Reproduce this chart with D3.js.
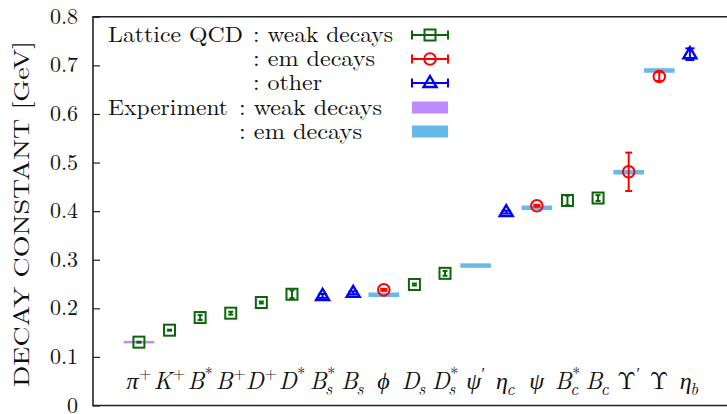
<!DOCTYPE html>
<html><head><meta charset="utf-8">
<script src="https://cdn.jsdelivr.net/npm/d3@7/dist/d3.min.js"></script>
<style>
html,body{margin:0;padding:0;background:#fff;}
svg{display:block;}
</style></head>
<body>
<script>
// ---------- data ----------
const categories = ["pi+","K+","B*","B+","D+","D*","Bs*","Bs","phi","Ds","Ds*","psi'","eta_c","psi","Bc*","Bc","Upsilon'","Upsilon","eta_b"];
const labelBase = ["π","K","B","B","D","D","B","B","ϕ","D","D","ψ","η","ψ","B","B","Υ","Υ","η"];
const labelSup  = ["+","+","*","+","+","*","*","","","","*","′","","","*","","′","",""];
const labelSub  = ["","","","","","","s","s","","s","s","","c","","c","c","","","b"];

const weakCats = ["pi+","K+","B*","B+","D+","D*","Ds","Ds*","Bc*","Bc"];
const weakVals = [0.1304,0.155,0.181,0.190,0.212,0.229,0.249,0.272,0.422,0.427];
const weakErrs = [0.001,0.001,0.005,0.003,0.002,0.008,0.002,0.005,0.010,0.006];

const emCats = ["phi","psi","Upsilon'","Upsilon"];
const emVals = [0.238,0.411,0.481,0.677];
const emErrs = [0.002,0.002,0.0395,0.009];

const otherCats = ["Bs*","Bs","eta_c","eta_b"];
const otherVals = [0.2255,0.232,0.398,0.723];
const otherErrs = [0.004,0.003,0.003,0.012];

const expWeakCats = ["pi+"];
const expWeakVals = [0.1304];
const expEmCats = ["phi","psi'","psi","Upsilon'","Upsilon"];
const expEmVals = [0.228,0.288,0.407,0.480,0.6895];

const yTicks = [0,0.1,0.2,0.3,0.4,0.5,0.6,0.7,0.8];
const yLabel = "DECAY CONSTANT [GeV]";
const legendRows = [
  {left:"Lattice QCD", right:": weak decays"},
  {left:"", right:": em decays"},
  {left:"", right:": other"},
  {left:"Experiment", right:": weak decays"},
  {left:"", right:": em decays"}
];

// ---------- layout ----------
const W=727,H=414;
const pLeft=93, pTop=16.8, pBottom=405.5;
const green="#0b660b", red="#ff0000", blue="#0000ff", purple="#c08aff", sky="#66b9e9";
const FONT='"Latin Modern Roman", "Liberation Serif", serif';
const T=sel=>sel.style("font-family",FONT).attr("fill","#111");

const svg=d3.select("body").append("svg").attr("width",W).attr("height",H);

const x=d3.scaleLinear().domain([-1.5,19.5]).range([pLeft,pLeft+21*30.61]);
const y=d3.scaleLinear().domain([0,0.8]).range([pBottom,pTop]);
const xi=c=>x(categories.indexOf(c));

// frame
const fr=svg.append("g").attr("stroke","#222").attr("stroke-width",1.6).attr("fill","none");
fr.append("path").attr("d",`M${W+5},${pTop}H${pLeft}V${pBottom}H${W+5}`);

// y axis ticks (inward)
const yAxis=d3.axisRight(y).tickValues(yTicks).tickSize(7).tickFormat("");
const ga=svg.append("g").attr("transform",`translate(${pLeft},0)`).call(yAxis);
ga.select(".domain").remove();
ga.selectAll("line").attr("stroke","#222").attr("stroke-width",1.2);

// y tick labels
svg.append("g").selectAll("text").data(yTicks).join("text")
  .attr("x",78).attr("y",d=>y(d)+7).attr("text-anchor","end")
  .attr("font-size",22).text(d=>d===0?"0":d3.format(".1f")(d)).call(T);

// y label
svg.append("text").attr("transform",`translate(29,214) rotate(-90)`)
  .attr("text-anchor","middle").attr("font-size",22)
  .attr("textLength",346).attr("lengthAdjust","spacingAndGlyphs").text(yLabel).call(T);

// x category labels
const xl=svg.append("g");
categories.forEach((c,i)=>{
  const upright = labelBase[i]==="Υ";
  const g=xl.append("g");
  const b=g.append("text").attr("y",389).attr("font-size",24)
    .attr("font-style",upright?"normal":"italic").text(labelBase[i]).call(T);
  const bw=b.node().getComputedTextLength();
  let sw=0, subw=0, sup=null, sub=null;
  if(labelSup[i]){ sup=g.append("text").attr("y",379).attr("font-size",16).text(labelSup[i]).call(T); sw=sup.node().getComputedTextLength(); }
  if(labelSub[i]){ sub=g.append("text").attr("y",395).attr("font-size",17).attr("font-style","italic").text(labelSub[i]).call(T); subw=sub.node().getComputedTextLength(); }
  const total=bw+0.5+Math.max(sw,subw);
  const x0=x(i)-total/2;
  b.attr("x",x0);
  if(sup) sup.attr("x",x0+bw+0.5);
  if(sub) sub.attr("x",x0+bw+(upright?0:-1.5));
});

// experiment bars
const half=30.61/2;
svg.append("g").selectAll("line").data(expWeakCats.map((c,i)=>({c,v:expWeakVals[i]}))).join("line")
  .attr("x1",d=>xi(d.c)-half).attr("x2",d=>xi(d.c)+half).attr("y1",d=>y(d.v)).attr("y2",d=>y(d.v))
  .attr("stroke",purple).attr("stroke-width",2.5);
svg.append("g").selectAll("line").data(expEmCats.map((c,i)=>({c,v:expEmVals[i]}))).join("line")
  .attr("x1",d=>xi(d.c)-half).attr("x2",d=>xi(d.c)+half).attr("y1",d=>y(d.v)).attr("y2",d=>y(d.v))
  .attr("stroke",sky).attr("stroke-width",4.5);

// helpers
function errbar(g,cx,v,e,color,cap){
  const y1=y(v-e), y2=y(v+e);
  g.append("line").attr("x1",cx).attr("x2",cx).attr("y1",y1).attr("y2",y2).attr("stroke",color).attr("stroke-width",2);
  [y1,y2].forEach(yy=>g.append("line").attr("x1",cx-cap).attr("x2",cx+cap).attr("y1",yy).attr("y2",yy).attr("stroke",color).attr("stroke-width",2));
}
function square(g,cx,cy){
  g.append("rect").attr("x",cx-5.5).attr("y",cy-5.5).attr("width",11).attr("height",11)
    .attr("fill","none").attr("stroke",green).attr("stroke-width",2);
}
function circle(g,cx,cy){
  g.append("circle").attr("cx",cx).attr("cy",cy).attr("r",5.8).attr("fill","none").attr("stroke",red).attr("stroke-width",2);
}
function tri(g,cx,cy){
  g.append("path").attr("d",`M${cx},${cy-7}L${cx+6.5},${cy+4}L${cx-6.5},${cy+4}Z`)
    .attr("fill","none").attr("stroke",blue).attr("stroke-width",2.4).attr("stroke-linejoin","miter");
}

const pts=svg.append("g");
weakCats.forEach((c,i)=>{ errbar(pts,xi(c),weakVals[i],weakErrs[i],green,2.5); square(pts,xi(c),y(weakVals[i])); });
emCats.forEach((c,i)=>{ errbar(pts,xi(c),emVals[i],emErrs[i],red,3.5); circle(pts,xi(c),y(emVals[i])); });
otherCats.forEach((c,i)=>{ errbar(pts,xi(c),otherVals[i],otherErrs[i],blue,4.5); tri(pts,xi(c),y(otherVals[i])); });

// legend
const lg=svg.append("g");
const rowY=[35,59,83,107.5,131.5];
const rightX=[253,253,253,239,239];
const rightW=[140,122,69,143,123];
const leftW={"Lattice QCD":135,"Experiment":120};
legendRows.forEach((r,i)=>{
  if(r.left) lg.append("text").attr("x",108).attr("y",rowY[i]+7).attr("font-size",22)
     .attr("textLength",leftW[r.left]).attr("lengthAdjust","spacingAndGlyphs").text(r.left).call(T);
  lg.append("text").attr("x",rightX[i]).attr("y",rowY[i]+7).attr("font-size",22)
     .attr("textLength",rightW[i]).attr("lengthAdjust","spacingAndGlyphs").text(r.right).call(T);
});
const sx1=412, sx2=448, scx=430;
[[green,square],[red,circle],[blue,tri]].forEach(([col,fn],i)=>{
  const yy=rowY[i];
  lg.append("line").attr("x1",sx1).attr("x2",sx2).attr("y1",yy).attr("y2",yy).attr("stroke",col).attr("stroke-width",2);
  [sx1,sx2].forEach(xx=>lg.append("line").attr("x1",xx).attr("x2",xx).attr("y1",yy-4.5).attr("y2",yy+4.5).attr("stroke",col).attr("stroke-width",2));
  fn(lg,scx,yy);
});
lg.append("rect").attr("x",sx1).attr("y",rowY[3]-6).attr("width",sx2-sx1).attr("height",12).attr("fill",purple);
lg.append("rect").attr("x",sx1).attr("y",rowY[4]-6).attr("width",sx2-sx1).attr("height",12).attr("fill",sky);
</script>
</body></html>
